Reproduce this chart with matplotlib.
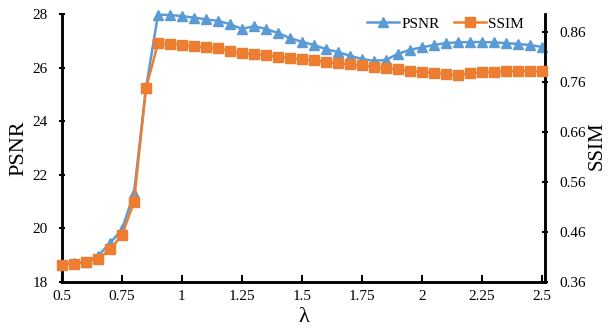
import matplotlib
matplotlib.use("Agg")
import matplotlib.pyplot as plt
import numpy as np

plt.rcParams['font.family'] = ['Liberation Serif', 'DejaVu Serif']

lam = [0.5, 0.55, 0.6, 0.65, 0.7, 0.75, 0.8, 0.85, 0.9, 0.95,
       1.0, 1.05, 1.1, 1.15, 1.2, 1.25, 1.3, 1.35, 1.4, 1.45,
       1.5, 1.55, 1.6, 1.65, 1.7, 1.75, 1.8, 1.85, 1.9, 1.95,
       2.0, 2.05, 2.1, 2.15, 2.2, 2.25, 2.3, 2.35, 2.4, 2.45, 2.5]

psnr = [18.68, 18.70, 18.76, 18.98, 19.45, 19.96, 21.31, 25.22, 27.97, 27.96,
        27.92, 27.86, 27.80, 27.74, 27.62, 27.44, 27.54, 27.44, 27.29, 27.10,
        26.96, 26.84, 26.69, 26.58, 26.44, 26.32, 26.25, 26.28, 26.51, 26.66,
        26.75, 26.84, 26.91, 26.94, 26.95, 26.95, 26.94, 26.91, 26.88, 26.84, 26.77]

ssim = [0.395, 0.397, 0.401, 0.407, 0.425, 0.454, 0.520, 0.747, 0.837, 0.836,
        0.834, 0.831, 0.829, 0.827, 0.822, 0.817, 0.815, 0.814, 0.810, 0.808,
        0.805, 0.803, 0.800, 0.797, 0.795, 0.793, 0.790, 0.787, 0.785, 0.782,
        0.780, 0.778, 0.776, 0.774, 0.777, 0.779, 0.780, 0.781, 0.782, 0.782, 0.781]

xticks = [0.5, 0.75, 1, 1.25, 1.5, 1.75, 2, 2.25, 2.5]
xticklabels = ['0.5', '0.75', '1', '1.25', '1.5', '1.75', '2', '2.25', '2.5']
yticks_left = [18, 20, 22, 24, 26, 28]
yticks_right = [0.36, 0.46, 0.56, 0.66, 0.76, 0.86]

blue = '#5B9BD5'
orange = '#ED7D31'

fig = plt.figure(figsize=(6.08, 3.31), dpi=100)
ax = fig.add_axes([0.102, 0.148, 0.794, 0.810])
ax2 = ax.twinx()

l1, = ax.plot(lam, psnr, color=blue, lw=1.8, marker='^', ms=7.5,
              label='PSNR', clip_on=False, zorder=3)
l2, = ax2.plot(lam, ssim, color=orange, lw=1.8, marker='s', ms=6.5,
               label='SSIM', clip_on=False, zorder=3)

ax.set_xlim(0.5, 2.513)
ax.set_ylim(18, 28)
ax2.set_ylim(0.36, 0.896)

ax.set_xticks(xticks)
ax.set_xticklabels(xticklabels)
ax.set_yticks(yticks_left)
ax2.set_yticks(yticks_right)
ax2.set_yticklabels(['%.2f' % v for v in yticks_right])

for a in (ax, ax2):
    a.spines['top'].set_visible(False)
    for s in ('left', 'right', 'bottom'):
        a.spines[s].set_linewidth(1.8)
        a.spines[s].set_color('black')

ax.tick_params(axis='x', direction='in', length=5, width=1.5, labelsize=11, pad=6)
ax.tick_params(axis='y', direction='inout', length=5, width=1.5, labelsize=11, pad=8)
ax2.tick_params(axis='y', direction='inout', length=5, width=1.5, labelsize=11, pad=8)

ax.set_xlabel('λ', fontsize=16, labelpad=3)
ax.set_ylabel('PSNR', fontsize=16, labelpad=3)
fig.text(597 / 608, 1 - 146 / 331, 'SSIM', fontsize=15, rotation=90,
         ha='center', va='center')

ax2.legend([l1, l2], ['PSNR', 'SSIM'], loc='upper right', ncol=2, frameon=False,
           fontsize=11, bbox_to_anchor=(0.985, 1.04), handlelength=2.1,
           columnspacing=0.9, handletextpad=0.15)

fig.savefig('out.png', dpi=100)
